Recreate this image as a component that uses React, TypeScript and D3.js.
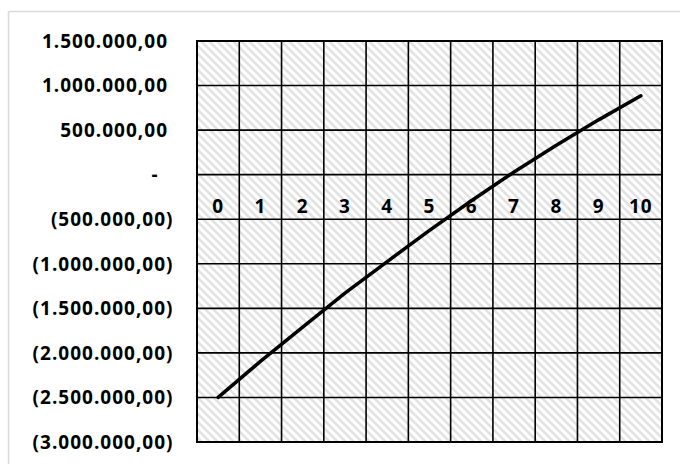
import React from "react";
import * as d3 from "d3";

// Periods (category axis)
const categories: number[] = [0, 1, 2, 3, 4, 5, 6, 7, 8, 9, 10];
// Series values
const seriesValues: number[] = [
  -2500000, -2095000, -1710000, -1330000, -975000, -625000, -290000, 30000,
  330000, 615000, 885000,
];
// Value axis ticks
const yTickValues: number[] = [
  1500000, 1000000, 500000, 0, -500000, -1000000, -1500000, -2000000,
  -2500000, -3000000,
];

const W = 680;
const H = 464;
const plot = { left: 197, right: 662, top: 41, bottom: 442 };

const locale = d3.formatLocale({
  decimal: ",",
  thousands: ".",
  grouping: [3],
  currency: ["", ""],
});
const num = locale.format(",.2f");
const fmtTick = (v: number) => (v === 0 ? "-" : v < 0 ? `(${num(-v)})` : num(v));

export default function App() {
  const x = d3
    .scaleBand<number>()
    .domain(categories)
    .range([plot.left, plot.right])
    .paddingInner(0)
    .paddingOuter(0);
  const y = d3
    .scaleLinear()
    .domain([d3.min(yTickValues)!, d3.max(yTickValues)!])
    .range([plot.bottom, plot.top]);
  const cx = (c: number) => (x(c) ?? 0) + x.bandwidth() / 2;

  const line = d3
    .line<number>()
    .x((_, i) => cx(categories[i]))
    .y((d) => y(d));

  const bounds = categories.map((c) => x(c) ?? 0).concat([plot.right]);
  const font = "'Open Sans', 'Liberation Sans', sans-serif";

  return (
    <svg
      width={W}
      height={H}
      style={{ position: "fixed", left: 0, top: 0, background: "#fff" }}
    >
      <defs>
        <pattern
          id="hatch"
          patternUnits="userSpaceOnUse"
          width={8}
          height={8}
        >
          <rect width={8} height={8} fill="#fff" />
          <path
            d="M-1,-1 L9,9 M-1,7 L1,9 M7,-1 L9,1"
            stroke="#e2e2e2"
            strokeWidth={2.5}
          />
        </pattern>
      </defs>
      {/* outer chart frame */}
      <line x1={8.5} y1={11.5} x2={8.5} y2={H} stroke="#d9d9d9" strokeWidth={1.5} />
      <line x1={8.5} y1={11.5} x2={W} y2={11.5} stroke="#d9d9d9" strokeWidth={1.5} />

      {/* plot area */}
      <rect
        x={plot.left}
        y={plot.top}
        width={plot.right - plot.left}
        height={plot.bottom - plot.top}
        fill="url(#hatch)"
      />
      {yTickValues.map((v) => (
        <line
          key={`h${v}`}
          x1={plot.left}
          x2={plot.right}
          y1={y(v)}
          y2={y(v)}
          stroke="#000"
          strokeWidth={1.6}
        />
      ))}
      {bounds.map((b, i) => (
        <line
          key={`v${i}`}
          x1={b}
          x2={b}
          y1={plot.top}
          y2={plot.bottom}
          stroke="#000"
          strokeWidth={1.6}
        />
      ))}
      <rect
        x={plot.left}
        y={plot.top}
        width={plot.right - plot.left}
        height={plot.bottom - plot.top}
        fill="none"
        stroke="#000"
        strokeWidth={2}
      />

      {/* y labels */}
      {yTickValues.map((v) => (
        <text
          key={`yl${v}`}
          x={v === 0 ? 158.5 : v < 0 ? 173.5 : 168}
          y={y(v) + 6.8}
          textAnchor="end"
          fontFamily={font}
          fontWeight={700}
          fontSize={19}
          letterSpacing={1}
          fill="#000"
        >
          {fmtTick(v)}
        </text>
      ))}

      {/* x labels */}
      {categories.map((c) => (
        <text
          key={`xl${c}`}
          x={cx(c)}
          y={213.3}
          textAnchor="middle"
          fontFamily={font}
          fontWeight={700}
          fontSize={19}
          letterSpacing={1}
          fill="#000"
        >
          {String(c)}
        </text>
      ))}

      {/* series */}
      <path
        d={line(seriesValues) ?? ""}
        fill="none"
        stroke="#000"
        strokeWidth={3.5}
        strokeLinecap="round"
        strokeLinejoin="round"
      />
    </svg>
  );
}
